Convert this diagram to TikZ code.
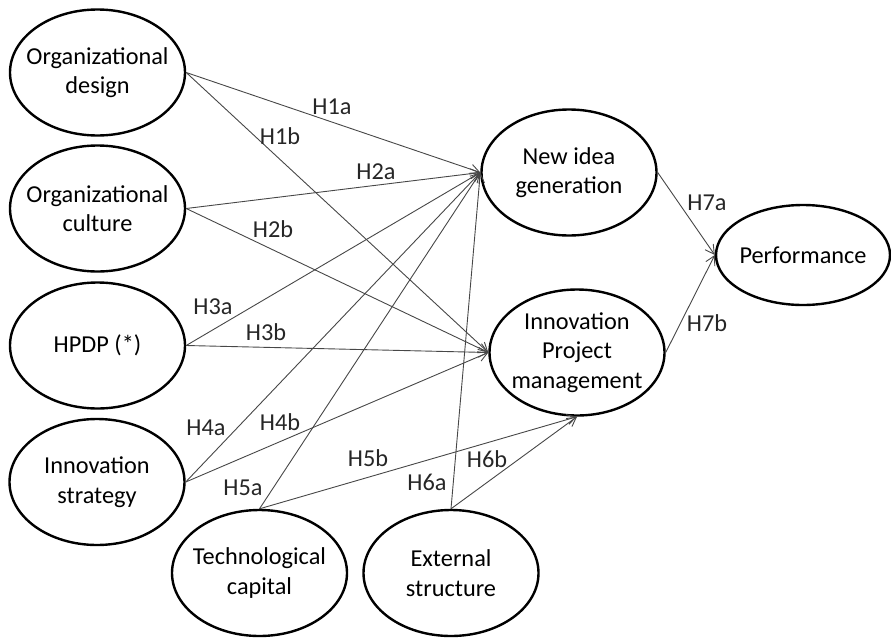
\documentclass[tikz,border=0pt]{standalone}
\usepackage{fontspec}
\setmainfont{Carlito}
\usetikzlibrary{shapes.geometric,arrows.meta}
\begin{document}
\begin{tikzpicture}[x=1pt,y=-1pt,
  construct/.style={ellipse,draw=black,line width=2.4pt,inner ysep=0pt,inner xsep=-20pt,align=center,
    minimum width=175pt,minimum height=126pt,font=\fontsize{24.3}{29.5}\selectfont},
  link/.style={draw=black!72,line width=0.9pt,-{Straight Barb[length=9pt,width=10pt]}},
  hyp/.style={inner sep=0pt,font=\fontsize{24.3}{29.5}\selectfont,text=black!85}]
\useasboundingbox (0,0) rectangle (891,640);
\node[construct] (od) at (97.5,72.5) {Organizational\\design};
\node[construct] (oc) at (97.5,208.5) {Organizational\\culture};
\node[construct] (hp) at (97.5,345.5) {HPDP (*)};
\node[construct] (is) at (97,482) {Innovation\\strategy};
\node[construct] (tc) at (259.5,573) {Technological\\capital};
\node[construct] (es) at (451,573) {External\\structure};
\node[construct] (nig) at (569,172.5) {New idea\\generation};
\node[construct] (ipm) at (577,352.5) {Innovation\\Project\\management};
\node[construct,minimum width=174pt,minimum height=100pt] (pf) at (803,255) {Performance};

\draw[link] (od.east) -- (nig.west);
\draw[link] (od.east) -- (ipm.west);
\draw[link] (oc.east) -- (nig.west);
\draw[link] (oc.east) -- (ipm.west);
\draw[link] (hp.east) -- (nig.west);
\draw[link] (hp.east) -- (ipm.west);
\draw[link] (is.east) -- (nig.west);
\draw[link] (is.east) -- (ipm.west);
\draw[link] (tc.north) -- (nig.west);
\draw[link] (tc.north) -- (ipm.south);
\draw[link] (es.north) -- (nig.west);
\draw[link] (es.north) -- (ipm.south);
\draw[link] (nig.east) -- (pf.west);
\draw[link] (ipm.east) -- (pf.west);

\node[hyp] (h1a) at (332,107) {H1a};
\node[hyp] (h1b) at (280,136) {H1b};
\node[hyp] (h2a) at (376,172) {H2a};
\node[hyp] (h2b) at (273,229) {H2b};
\node[hyp] (h3a) at (213,307) {H3a};
\node[hyp] (h3b) at (266,332) {H3b};
\node[hyp] (h4a) at (206,428) {H4a};
\node[hyp] (h4b) at (280,422) {H4b};
\node[hyp] (h5a) at (243,488) {H5a};
\node[hyp] (h5b) at (368,458) {H5b};
\node[hyp] (h6a) at (427,482) {H6a};
\node[hyp] (h6b) at (487,459) {H6b};
\node[hyp] (h7a) at (707,203) {H7a};
\node[hyp] (h7b) at (707,323) {H7b};
\end{tikzpicture}
\end{document}
